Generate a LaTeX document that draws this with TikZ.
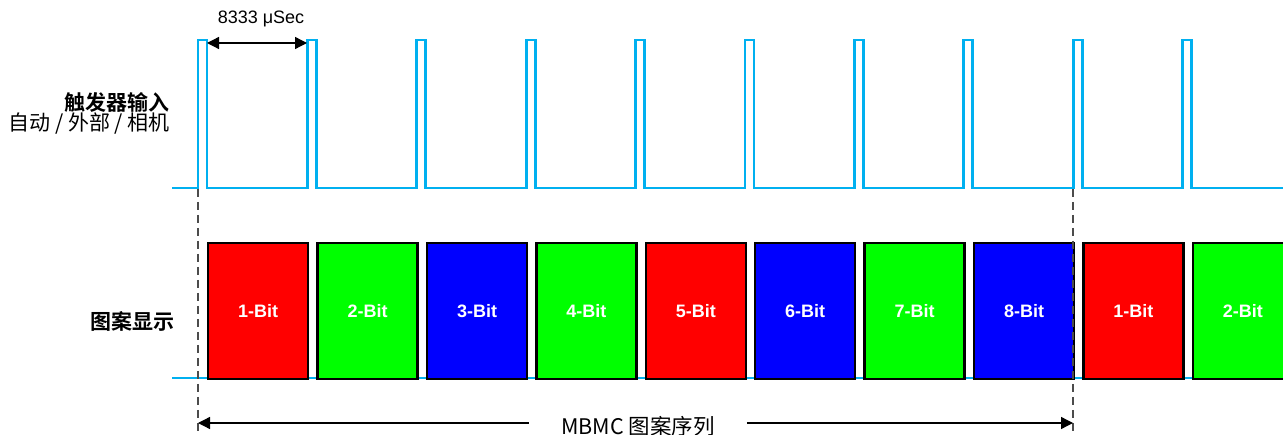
\documentclass[tikz,border=0pt]{standalone}
\usepackage{fontspec}
\setmainfont{Liberation Sans}
\newfontfamily\cjk{Noto Sans CJK SC}[BoldFont={Noto Sans CJK SC Bold}]
\usetikzlibrary{arrows.meta}
\definecolor{trigblue}{RGB}{0,176,240}
\tikzstyle{signal}=[trigblue, line width=2.8pt]
\tikzstyle{frame}=[draw=black, line width=2.4pt, minimum width=100pt, minimum height=136pt, inner sep=0pt, anchor=north west, text=white, font=\bfseries\fontsize{18}{20}\selectfont]
\tikzstyle{guide}=[black!70, line width=1.3pt, dash pattern=on 8pt off 5pt]
\tikzstyle{span}=[line width=1.3pt, >={Triangle[length=12pt,width=12pt]}]
\tikzstyle{label}=[font=\cjk\fontsize{21}{24}\selectfont, inner sep=0pt, anchor=east]

\begin{document}
\begin{tikzpicture}[x=1pt, y=-1pt]
  \useasboundingbox (0,0) rectangle (1283,435);
  % trigger pulses
  \draw[signal] (172,188)
    \foreach \i in {0,...,9} {
      -- ({198+109.4*\i},188) -- ({198+109.4*\i},40)
      -- ({207+109.4*\i},40) -- ({207+109.4*\i},188)
    } -- (1295,188);
  \draw[signal] (172,378) -- (1295,378);
  % pattern frames
  \foreach \n/\c [count=\i from 0] in
      {1/red,2/green,3/blue,4/green,5/red,6/blue,7/green,8/blue,1/red,2/green}
    \node[frame, fill=\c] (b\i) at ({207+109.4*\i},242) {\n-Bit};

  \node[label, font=\cjk\bfseries\fontsize{21}{24}\selectfont] (trig) at (170,102) {触发器输入};
  \node[label] (src) at (170,124) {自动 / 外部 / 相机};
  \node[label, font=\cjk\bfseries\fontsize{21}{24}\selectfont] (disp) at (175,321) {图案显示};

  \coordinate (s0) at (198,189);
  \coordinate (s1) at (198,436);
  \coordinate (e0) at (1073,189);
  \coordinate (e1) at (1073,436);
  \draw[guide] (s0) -- (s1);
  \draw[guide] (e0) -- (e1);

  \coordinate (p0) at (207,43);
  \coordinate (p1) at (307,43);
  \draw[span, <->] (p0) -- (p1);
  \node[font=\fontsize{18}{20}\selectfont] (per) at (261,19) {8333 μSec};

  \coordinate (q0) at (198,423);
  \coordinate (q1) at (1073,423);
  \node[font=\cjk\fontsize{21.5}{23}\selectfont, inner xsep=32pt, inner ysep=2pt] (seq) at (638,426) {MBMC 图案序列};
  \draw[span, <-] (q0) -- (q0 -| seq.west);
  \draw[span, ->] (q1 -| seq.east) -- (q1);
\end{tikzpicture}
\end{document}
